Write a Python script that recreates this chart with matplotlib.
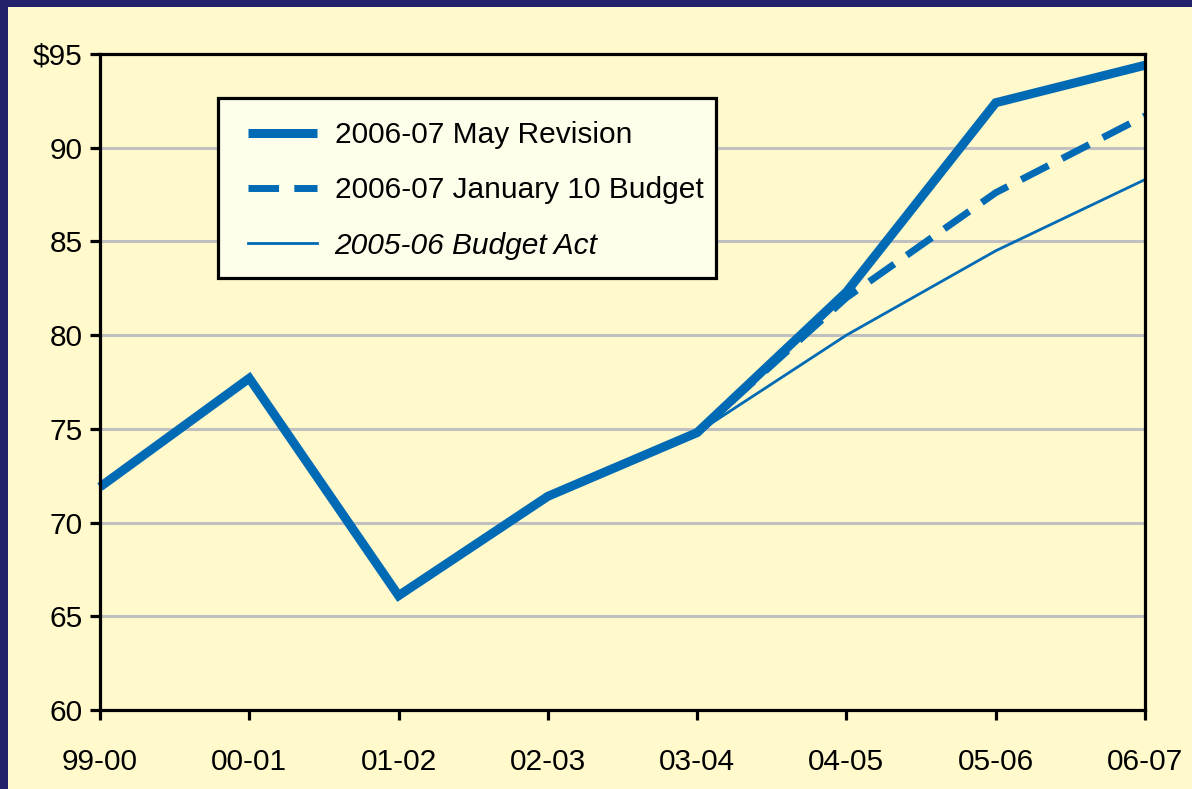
import matplotlib
matplotlib.use("Agg")
import matplotlib.pyplot as plt
from matplotlib.patches import Rectangle

# ---- data ----
years = ["99-00", "00-01", "01-02", "02-03", "03-04", "04-05", "05-06", "06-07"]
may_revision = [71.9, 77.7, 66.1, 71.4, 74.8, 82.3, 92.4, 94.4]
jan_budget = [None, None, None, None, 74.8, 82.0, 87.6, 91.7]
budget_act = [None, None, None, None, 74.8, 80.0, 84.5, 88.3]
series_labels = ["2006-07 May Revision", "2006-07 January 10 Budget", "2005-06 Budget Act"]
y_ticks = [60, 65, 70, 75, 80, 85, 90, 95]
y_tick_labels = ["60", "65", "70", "75", "80", "85", "90", "$95"]

NAVY = "#24216b"
CREAM = "#FFF9CB"
LEGEND_FACE = "#FFFEEA"
BLUE = "#006AB5"
GRID = "#C0C0C0"

plt.rcParams['font.family'] = ['Liberation Sans', 'DejaVu Sans']

W, H = 1192, 789
fig = plt.figure(figsize=(W / 100, H / 100), dpi=100, facecolor=CREAM)
# navy border strips (top and left)
fig.patches.append(Rectangle((0, 0), 8 / W, 1, transform=fig.transFigure,
                             facecolor=NAVY, edgecolor='none', zorder=-5))
fig.patches.append(Rectangle((0, 1 - 7 / H), 1, 7 / H, transform=fig.transFigure,
                             facecolor=NAVY, edgecolor='none', zorder=-5))

ax = fig.add_axes([100 / W, 1 - 710 / H, (1145 - 100) / W, (710 - 54) / H])
ax.set_facecolor(CREAM)

x = list(range(len(years)))

def seg(vals):
    xs = [i for i, v in zip(x, vals) if v is not None]
    ys = [v for v in vals if v is not None]
    return xs, ys

for yv in y_ticks[1:-1]:
    ax.axhline(yv, color=GRID, lw=2.2, zorder=1)

l1, = ax.plot(x, may_revision, color=BLUE, lw=6.5, solid_joinstyle='miter',
              solid_capstyle='butt', clip_on=False, zorder=4, label=series_labels[0])
xs, ys = seg(jan_budget)
l2, = ax.plot(xs, ys, color=BLUE, lw=5.0, dashes=(4.4, 2.2), dash_capstyle='butt',
              clip_on=False, zorder=3, label=series_labels[1])
xs, ys = seg(budget_act)
l3, = ax.plot(xs, ys, color=BLUE, lw=2.0, clip_on=False, zorder=3, label=series_labels[2])

ax.set_xlim(0, len(years) - 1)
ax.set_ylim(60, 95)
ax.set_xticks(x)
ax.set_xticklabels(years)
ax.set_yticks(y_ticks)
ax.set_yticklabels(y_tick_labels)

for s in ax.spines.values():
    s.set_linewidth(2.3)
    s.set_color('black')
    s.set_zorder(5)

ax.tick_params(axis='both', which='major', direction='out', width=2.3,
               labelsize=21.5, colors='black')
ax.tick_params(axis='y', length=7.5, pad=5)
ax.tick_params(axis='x', length=7.5, pad=20)

# legend frame (drawn separately to allow asymmetric padding)
frame = Rectangle((218 / W, 1 - 278 / H), (716 - 218) / W, (278 - 98) / H,
                  transform=fig.transFigure, facecolor=LEGEND_FACE,
                  edgecolor='black', lw=2.3, zorder=5.5, clip_on=False)
ax.add_patch(frame)

leg = ax.legend(handles=[l1, l2, l3], loc='upper left',
                bbox_to_anchor=(248 / W, 1 - 121 / H), bbox_transform=fig.transFigure,
                fontsize=21.5, frameon=False, handlelength=2.3,
                handletextpad=0.6, labelspacing=0.92, borderpad=0,
                borderaxespad=0)
leg.set_zorder(6)
leg.get_texts()[2].set_style('italic')

fig.savefig("out.png", dpi=100, facecolor=CREAM)
